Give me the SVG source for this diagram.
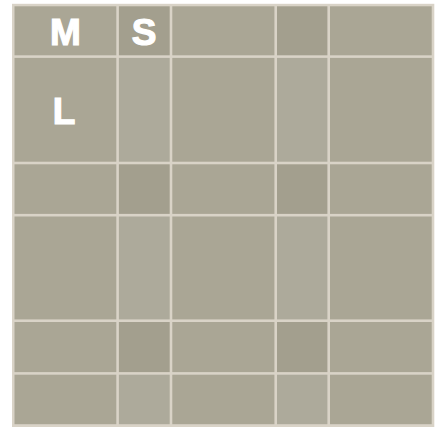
<svg xmlns="http://www.w3.org/2000/svg" width="441" height="427" viewBox="0 0 441 427">
<style>
.t{fill:#aaa695}
.d{fill:#a39f8e}
.l{fill:#adaa9b}
.lab{font-family:"Liberation Sans",Arial,sans-serif;font-weight:bold;font-size:37px;fill:#ffffff;stroke:#ffffff;stroke-width:1.2;text-anchor:middle}
</style>
<rect x="0" y="0" width="441" height="427" fill="#ffffff"/>
<rect x="12" y="3.8" width="422.3" height="423.2" fill="#d9d3c7"/>
<g id="row1">
<rect id="r1c1" class="t" x="14.5" y="6.3" width="101.8" height="49"/>
<rect id="r1c2" class="d" x="118.9" y="6.3" width="50.8" height="49"/>
<rect id="r1c3" class="t" x="172.3" y="6.3" width="102.1" height="49"/>
<rect id="r1c4" class="d" x="277" y="6.3" width="50.4" height="49"/>
<rect id="r1c5" class="t" x="330" y="6.3" width="101.7" height="49"/>
</g>
<g id="row2">
<rect id="r2c1" class="t" x="14.5" y="57.9" width="101.8" height="103.8"/>
<rect id="r2c2" class="l" x="118.9" y="57.9" width="50.8" height="103.8"/>
<rect id="r2c3" class="t" x="172.3" y="57.9" width="102.1" height="103.8"/>
<rect id="r2c4" class="l" x="277" y="57.9" width="50.4" height="103.8"/>
<rect id="r2c5" class="t" x="330" y="57.9" width="101.7" height="103.8"/>
</g>
<g id="row3">
<rect id="r3c1" class="t" x="14.5" y="164.3" width="101.8" height="49.6"/>
<rect id="r3c2" class="d" x="118.9" y="164.3" width="50.8" height="49.6"/>
<rect id="r3c3" class="t" x="172.3" y="164.3" width="102.1" height="49.6"/>
<rect id="r3c4" class="d" x="277" y="164.3" width="50.4" height="49.6"/>
<rect id="r3c5" class="t" x="330" y="164.3" width="101.7" height="49.6"/>
</g>
<g id="row4">
<rect id="r4c1" class="t" x="14.5" y="216.5" width="101.8" height="102.9"/>
<rect id="r4c2" class="l" x="118.9" y="216.5" width="50.8" height="102.9"/>
<rect id="r4c3" class="t" x="172.3" y="216.5" width="102.1" height="102.9"/>
<rect id="r4c4" class="l" x="277" y="216.5" width="50.4" height="102.9"/>
<rect id="r4c5" class="t" x="330" y="216.5" width="101.7" height="102.9"/>
</g>
<g id="row5">
<rect id="r5c1" class="t" x="14.5" y="322" width="101.8" height="50.1"/>
<rect id="r5c2" class="d" x="118.9" y="322" width="50.8" height="50.1"/>
<rect id="r5c3" class="t" x="172.3" y="322" width="102.1" height="50.1"/>
<rect id="r5c4" class="d" x="277" y="322" width="50.4" height="50.1"/>
<rect id="r5c5" class="t" x="330" y="322" width="101.7" height="50.1"/>
</g>
<g id="row6">
<rect id="r6c1" class="t" x="14.5" y="374.7" width="101.8" height="49.5"/>
<rect id="r6c2" class="l" x="118.9" y="374.7" width="50.8" height="49.5"/>
<rect id="r6c3" class="t" x="172.3" y="374.7" width="102.1" height="49.5"/>
<rect id="r6c4" class="l" x="277" y="374.7" width="50.4" height="49.5"/>
<rect id="r6c5" class="t" x="330" y="374.7" width="101.7" height="49.5"/>
</g>
<g id="labels">
<text id="labM" class="lab" x="65.5" y="45">M</text>
<text id="labS" class="lab" x="144" y="45">S</text>
<text id="labL" class="lab" x="64" y="124">L</text>
</g>
</svg>
